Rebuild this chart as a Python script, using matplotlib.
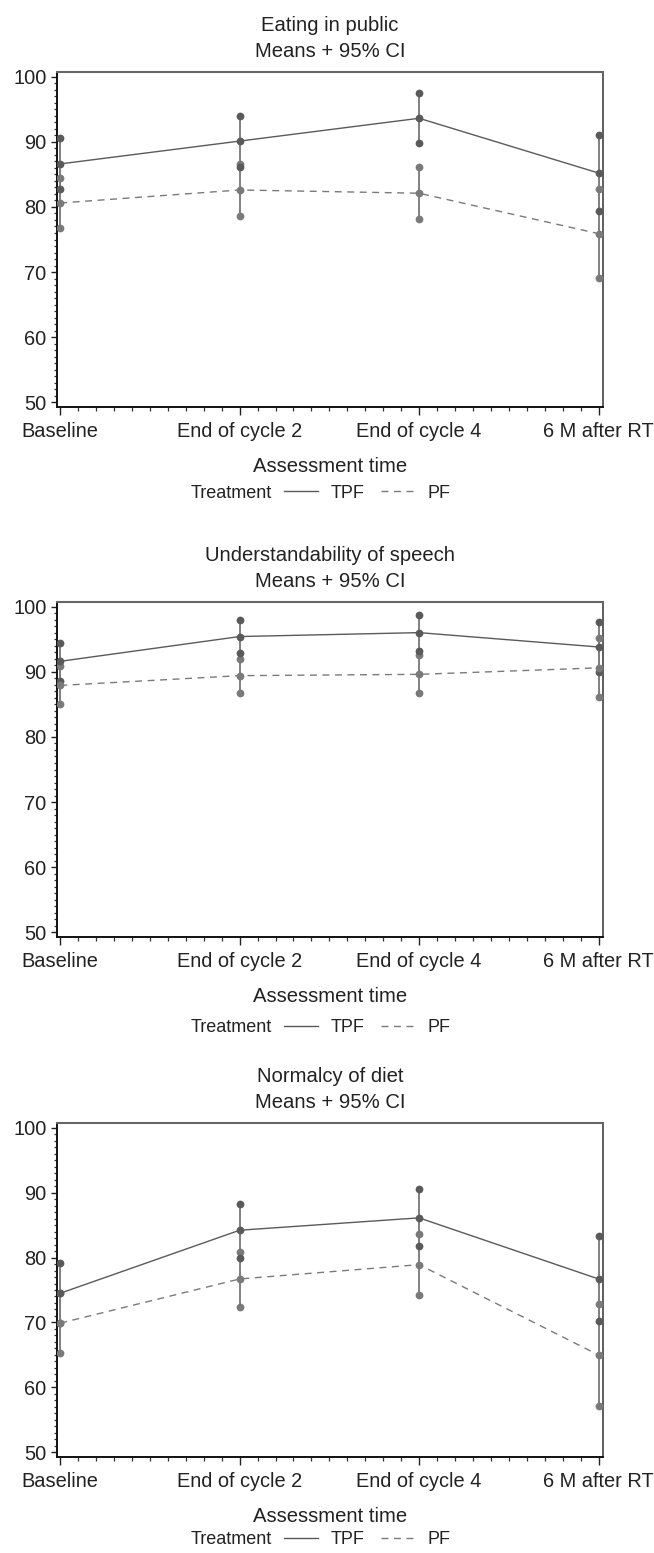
import matplotlib
matplotlib.use("Agg")
import matplotlib.pyplot as plt
from matplotlib.ticker import MultipleLocator, FixedLocator

plt.rcParams['font.family'] = ['Liberation Sans', 'DejaVu Sans']

times = ["Baseline", "End of cycle 2", "End of cycle 4", "6 M after RT"]
titles = ["Eating in public", "Understandability of speech", "Normalcy of diet"]
subtitle = "Means + 95% CI"
yticks = [50, 60, 70, 80, 90, 100]

# Eating in public
eat_tpf_mean = [86.6, 90.1, 93.6, 85.2]
eat_tpf_lo = [82.8, 86.1, 89.8, 79.4]
eat_tpf_hi = [90.5, 94.0, 97.5, 91.0]
eat_pf_mean = [80.6, 82.6, 82.1, 75.9]
eat_pf_lo = [76.7, 78.6, 78.1, 69.1]
eat_pf_hi = [84.4, 86.6, 86.2, 82.8]

# Understandability of speech
spe_tpf_mean = [91.6, 95.4, 96.0, 93.8]
spe_tpf_lo = [88.6, 92.9, 93.2, 89.9]
spe_tpf_hi = [94.4, 97.9, 98.7, 97.6]
spe_pf_mean = [87.9, 89.4, 89.6, 90.6]
spe_pf_lo = [85.0, 86.8, 86.8, 86.1]
spe_pf_hi = [90.9, 92.0, 92.5, 95.1]

# Normalcy of diet
die_tpf_mean = [74.5, 84.2, 86.1, 76.7]
die_tpf_lo = [69.9, 80.0, 81.7, 70.2]
die_tpf_hi = [79.1, 88.3, 90.5, 83.3]
die_pf_mean = [69.9, 76.7, 78.9, 65.0]
die_pf_lo = [65.3, 72.4, 74.3, 57.2]
die_pf_hi = [74.5, 80.9, 83.6, 72.8]

panels = [
    (eat_tpf_mean, eat_tpf_lo, eat_tpf_hi, eat_pf_mean, eat_pf_lo, eat_pf_hi),
    (spe_tpf_mean, spe_tpf_lo, spe_tpf_hi, spe_pf_mean, spe_pf_lo, spe_pf_hi),
    (die_tpf_mean, die_tpf_lo, die_tpf_hi, die_pf_mean, die_pf_lo, die_pf_hi),
]

W, H = 654, 1553
fig = plt.figure(figsize=(W / 100, H / 100), dpi=100)

# (top, bottom) pixel of each axes
boxes = [(72, 407), (602, 937), (1123, 1457)]
legend_offsets = [86, 91, 83]
left_px, right_px = 57, 603

TXT = "#222222"
TPF_C = "#5a5a5a"
PF_C = "#7a7a7a"
BAR_C = "#808080"
MS = 5.6

for i, (box, data) in enumerate(zip(boxes, panels)):
    top, bot = box
    ax = fig.add_axes([left_px / W, 1 - bot / H, (right_px - left_px) / W, (bot - top) / H])
    tm, tl, th, pm, pl, ph = data
    x = list(range(len(times)))

    ax.vlines(x, tl, th, colors=BAR_C, lw=1.4, zorder=2)
    ax.vlines(x, pl, ph, colors=BAR_C, lw=1.4, zorder=2)
    ax.plot(x, pl, 'o', color=PF_C, ms=MS, mec='none', zorder=3)
    ax.plot(x, ph, 'o', color=PF_C, ms=MS, mec='none', zorder=3)
    ax.plot(x, tl, 'o', color=TPF_C, ms=MS, mec='none', zorder=3)
    ax.plot(x, th, 'o', color=TPF_C, ms=MS, mec='none', zorder=3)
    l2, = ax.plot(x, pm, linestyle=(0, (5, 4)), color=PF_C, lw=1.0, marker='o',
                  ms=MS, mec='none', mfc=PF_C, label='PF', zorder=4)
    l1, = ax.plot(x, tm, linestyle='-', color=TPF_C, lw=1.0, marker='o',
                  ms=MS, mec='none', mfc=TPF_C, label='TPF', zorder=4)

    ax.set_xlim(-0.018, 3.025)
    ax.set_ylim(49.3, 100.7)
    ax.xaxis.set_major_locator(FixedLocator(x))
    ax.set_xticklabels(times)
    ax.xaxis.set_minor_locator(MultipleLocator(0.1))
    ax.yaxis.set_major_locator(FixedLocator(yticks))
    ax.yaxis.set_minor_locator(MultipleLocator(1))
    ax.tick_params(axis='both', which='major', labelsize=14.4, colors='#222222',
                   labelcolor=TXT, width=1.0)
    ax.tick_params(axis='x', which='major', length=5.5, pad=5)
    ax.tick_params(axis='x', which='minor', length=3, width=0.9, color='#333333')
    ax.tick_params(axis='y', which='major', length=4.5, pad=3)
    ax.tick_params(axis='y', which='minor', length=2.2, width=0.9, color='#333333')

    for s in ['left', 'bottom']:
        ax.spines[s].set_color('#111111')
        ax.spines[s].set_linewidth(1.4)
    ax.spines['top'].set_color('#666666')
    ax.spines['top'].set_linewidth(1.5)
    ax.spines['right'].set_color('#333333')
    ax.spines['right'].set_linewidth(1.1)

    ax.set_title(titles[i] + "\n" + subtitle, fontsize=14.6, color=TXT, pad=11,
                 linespacing=1.42)
    ax.set_xlabel("Assessment time", fontsize=14.6, color=TXT, labelpad=12)

    leg_y = -legend_offsets[i] / (bot - top)
    ax.text(0.245, leg_y, "Treatment", transform=ax.transAxes, fontsize=13,
            color=TXT, ha='left', va='center')
    ax.legend(handles=[l1, l2], loc='center left', bbox_to_anchor=(0.415, leg_y),
              ncol=2, frameon=False, fontsize=13, handlelength=1.9,
              handletextpad=0.7, columnspacing=0.9, borderpad=0, borderaxespad=0,
              labelcolor=TXT)
    for h in ax.get_legend().legend_handles:
        h.set_marker('')

fig.savefig("out.png", dpi=100)
